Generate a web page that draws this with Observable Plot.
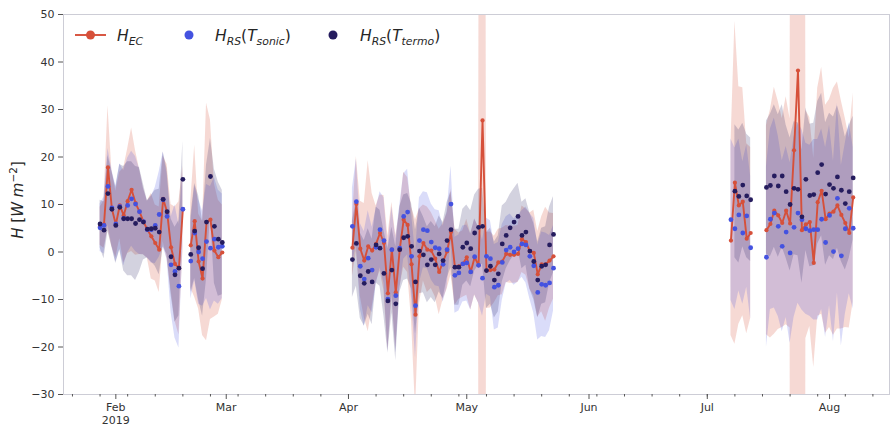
<!DOCTYPE html>
<html>
<head>
<meta charset="utf-8">
<script src="https://cdn.jsdelivr.net/npm/d3@7"></script>
<script src="https://cdn.jsdelivr.net/npm/@observablehq/plot@0.6"></script>
<style>
  body { margin: 0; background: #fff; }
  #chart { position: relative; width: 891px; height: 426px; }
</style>
</head>
<body>
<div id="chart"></div>
<script>
// Daily sensible heat flux H: eddy covariance (EC) and two surface-renewal (RS)
// estimates, with their uncertainty (half-width of the shaded band), three campaigns.

// Campaign A: 2019-01-28 .. 2019-02-28 (no data on 02-19)
const startA = "2019-01-28";
const hecA     = [5.4, 5.8, 17.8, 9.1, 5.8, 9.8, 7.7, 10.7, 13.1, 10.3, 8.5, 6.4, 4.7, 3.3, 1.9, 0.5, 11.2, 8.4, 1.0, -2.5, -3.4, 9.0, null, 1.4, 6.5, -2.0, -5.6, 6.3, 6.8, 0.3, -1.1, -0.1];
const hecErrA  = [4, 5, 13, 8, 7, 7, 10, 11, 13, 11, 9, 7, 6, 9, 8, 9, 9, 10, 9, 12, 14, 9, null, 9, 16, 10, 12, 25, 21, 14, 12, 10];
const sonicA   = [5.1, 5.6, 13.8, 9.3, 5.9, 9.6, 7.1, 9.8, 11.2, 10.1, 8.5, 6.4, 4.7, 4.7, 5.6, 7.9, 11.0, 7.5, -2.7, -4.1, -7.2, 9.0, null, -1.9, 4.0, 0.0, -1.4, 2.2, 0.8, 2.7, 1.0, 1.2];
const sonicErrA = [5, 6, 8, 8, 8, 9, 10, 10, 10, 10, 9, 7, 6, 7, 8, 9, 10, 9, 10, 14, 13, 8, null, 8, 10, 11, 10, 12, 13, 13, 12, 11];
const termoA   = [5.9, 4.6, 12.3, 9.0, 5.6, 9.4, 7.0, 7.0, 7.0, 6.0, 6.8, 6.3, 4.8, 4.9, 5.0, 4.2, 11.1, 8.5, -1.0, -4.8, -3.4, 15.3, null, -0.5, 4.4, 0.9, -3.5, 6.3, 15.9, 5.4, 2.7, 2.0];
const termoErrA = [5, 6, 8, 8, 8, 9, 11, 12, 12, 12, 11, 8, 6, 7, 8, 9, 10, 9, 8, 10, 10, 8, null, 8, 10, 11, 10, 12, 8, 12, 12, 11];

// Campaign B: 2019-04-02 .. 2019-05-23
const startB = "2019-04-02";
const hecB     = [0.9, 10.1, 0.7, -1.8, 1.2, 0.3, 1.7, 4.0, 1.9, -8.7, 0.5, -8.5, 0.5, 6.8, 5.7, -2.6, -13.2, -0.9, 1.9, 0.5, 0.3, -1.4, -4.2, -2.0, 0.1, 4.2, -3.2, -3.0, -2.5,
                  -1.1, -4.2, -1.1, -2.8, 27.7, -3.9, -3.8, -3.7, -2.2, -2.0, -0.4, -0.6, -0.6, -0.4, 2.7, 2.1, 0.2, -0.2, -4.7, -2.6, -2.6, -1.8, -0.9];
const hecErrB  = [6, 10, 10, 12, 18, 12, 8, 8, 10, 12, 10, 12, 8, 10, 10, 12, 20, 10, 8, 9, 8, 8, 9, 8, 8, 9, 8, 7, 7,
                  8, 8, 8, 8, 500, 8, 8, 7, 7, 7, 6, 6, 6, 6, 7, 7, 8, 9, 9, 10, 12, 10, 9];
const sonicB   = [5.4, 10.6, -3.0, -5.7, -1.3, -3.8, 1.0, 4.7, 2.4, -9.9, 0.5, -9.2, 0.8, 7.5, 8.4, -0.9, -11.3, 2.4, 4.7, 4.5, 2.1, 0.9, 0.7, -2.6, 0.5, 10.1, -4.9, -4.4, -2.5,
                  -2.3, -4.2, -1.0, -2.8, -5.5, -0.9, -1.4, -7.4, -7.0, -2.2, 0.4, 1.0, 0.0, 0.7, 1.7, 1.5, -0.9, -2.9, -8.5, -6.8, -7.0, -6.5, -3.4];
const sonicErrB = [8, 9, 9, 10, 10, 9, 8, 8, 9, 11, 9, 12, 9, 9, 9, 9, 11, 9, 8, 8, 8, 8, 8, 8, 8, 8, 8, 8, 8,
                  8, 8, 8, 8, 8, 8, 8, 9, 9, 8, 7, 7, 7, 7, 7, 8, 9, 10, 10, 11, 11, 10, 9];
const termoB   = [-1.6, 1.8, -5.0, -6.6, -4.1, -6.3, 1.5, 0.8, -4.5, -10.3, -3.8, -10.9, 0.5, 3.0, 3.3, 1.2, -6.3, 0.2, -0.6, -2.7, -1.6, -2.7, -0.4, -1.8, 2.4, 4.7, -3.2, -3.2, 1.0,
                  1.9, 0.7, 4.0, 5.2, 5.4, -3.9, -3.0, -5.9, -4.6, 1.7, 3.5, 5.1, 6.3, 7.5, 3.5, 4.2, 0.2, -2.0, -5.9, -3.0, -2.7, 1.5, 3.7];
const termoErrB = [8, 9, 9, 9, 9, 9, 8, 8, 9, 11, 9, 12, 9, 9, 9, 9, 11, 9, 8, 8, 8, 8, 8, 8, 8, 8, 8, 8, 8,
                  8, 8, 8, 8, 8, 8, 8, 8, 8, 8, 7, 7, 7, 7, 7, 7, 8, 8, 8, 8, 8, 8, 8];

// Campaign C: 2019-07-07 .. 2019-08-07 (no data 07-13 .. 07-15)
const startC = "2019-07-07";
const hecC     = [2.4, 14.6, 9.8, 10.6, 2.8, 4.0, null, null, null, 4.6, 5.9, 8.7, 7.7, 6.1, 8.7, 6.0, 21.4, 38.2, 4.6, 5.8, 6.3, -2.3, 10.5, 12.9, 6.9, 8.1, 8.5, 9.8, 7.8, 6.1, 4.0, 11.5];
const hecErrC  = [20, 34, 25, 24, 20, 18, null, null, null, 22, 24, 26, 24, 22, 24, 22, 500, 500, 500, 24, 22, 22, 24, 26, 24, 24, 26, 26, 24, 22, 20, 22];
const sonicC   = [6.8, 4.9, 7.8, 4.0, 7.6, 0.9, null, null, null, -1.1, 6.9, 8.2, 5.4, 1.2, 4.2, -0.2, 5.2, 8.2, 6.8, 4.9, 4.5, 4.7, 4.7, 6.9, 2.0, 7.7, 0.1, 11.3, -0.8, 4.9, 9.2, 5.0];
const sonicErrC = [17, 17, 16, 15, 15, 15, null, null, null, 19, 19, 20, 19, 18, 18, 19, 19, 19, 19, 18, 18, 19, 19, 19, 20, 19, 19, 20, 19, 18, 18, 17];
const termoC   = [null, 12.8, 11.7, 14.1, 11.8, 11.0, null, null, null, 13.6, 14.0, 16.0, 13.9, 16.0, 12.7, 10.0, 13.4, 13.2, 7.4, 15.3, 11.9, 12.1, 16.7, 18.4, 12.2, 14.2, 13.4, 15.8, 13.0, 10.2, 12.7, 15.6];
const termoErrC = [null, 14, 14, 13, 13, 13, null, null, null, 14, 15, 15, 15, 15, 14, 14, 14, 14, 14, 15, 15, 15, 15, 15, 15, 15, 15, 15, 15, 14, 14, 13];

// Axis ticks and labels
const yTicks = [-30, -20, -10, 0, 10, 20, 30, 40, 50];
const monthTicks = ["2019-02-01", "2019-03-01", "2019-04-01", "2019-05-01", "2019-06-01", "2019-07-01", "2019-08-01"];
const monthLabels = ["Feb\n2019", "Mar", "Apr", "May", "Jun", "Jul", "Aug"];
const xRange = ["2019-01-18T17:30Z", "2019-08-16T05:00Z"];

const RED = "#d6503a", BLUE = "#4452e0", NAVY = "#251c5e";

function campaign(seg, start, hec, hecErr, sonic, sonicErr, termo, termoErr) {
  const t0 = new Date(start + "T00:00Z");
  return hec.map((_, i) => ({
    seg, date: d3.utcDay.offset(t0, i),
    hec: hec[i], hecErr: hecErr[i],
    sonic: sonic[i], sonicErr: sonicErr[i],
    termo: termo[i], termoErr: termoErr[i]
  }));
}

const rows = [
  ...campaign("A", startA, hecA, hecErrA, sonicA, sonicErrA, termoA, termoErrA),
  ...campaign("B", startB, hecB, hecErrB, sonicB, sonicErrB, termoB, termoErrB),
  ...campaign("C", startC, hecC, hecErrC, sonicC, sonicErrC, termoC, termoErrC)
];

const lo = (k) => d => d[k] == null ? NaN : d[k] - d[k + "Err"];
const hi = (k) => d => d[k] == null ? NaN : d[k] + d[k + "Err"];
const band = (k, color, opacity) => Plot.areaY(rows, {
  x: "date", y1: lo(k), y2: hi(k), z: "seg", fill: color, fillOpacity: opacity, clip: true
});

const monthDates = monthTicks.map(s => new Date(s + "T00:00Z"));
const xDomain = xRange.map(s => new Date(s));
const weekDates = d3.utcMonday.range(xDomain[0], xDomain[1]);
const minus = v => v < 0 ? "\u2212" + Math.abs(v) : String(v);

const chart = Plot.plot({
  width: 891,
  height: 426,
  marginLeft: 63,
  marginRight: 2,
  marginTop: 14,
  marginBottom: 32,
  style: { fontFamily: "DejaVu Sans", fontSize: "11px", color: "#333", background: "#fff" },
  x: { type: "utc", domain: xDomain, axis: null },
  y: { domain: [-30, 50], axis: null },
  marks: [
    band("hec", RED, 0.22),
    band("sonic", BLUE, 0.2),
    band("termo", NAVY, 0.2),
    Plot.line(rows, { x: "date", y: "hec", z: "seg", stroke: RED, strokeWidth: 1.9 }),
    Plot.dot(rows, { x: "date", y: "hec", r: 2.1, fill: RED }),
    Plot.dot(rows, { x: "date", y: "sonic", r: 2.4, fill: BLUE }),
    Plot.dot(rows, { x: "date", y: "termo", r: 2.4, fill: NAVY }),
    Plot.frame({ stroke: "#cdcdd6" }),
    Plot.axisY(yTicks, { tickSize: 5, tickPadding: 4, tickFormat: minus, stroke: "#555", label: null }),
    Plot.axisX(weekDates, { tickSize: 2.5, tickFormat: () => "", stroke: "#555", label: null }),
    Plot.axisX(monthDates, {
      tickSize: 5, tickPadding: 3, stroke: "#555", label: null, lineHeight: 1.15,
      tickFormat: d => monthLabels[monthDates.findIndex(m => +m === +d)]
    })
  ]
});

document.getElementById("chart").appendChild(chart);

// Math-style labels: italic symbols with sub/superscripts
const svg = d3.select(chart);
function mathText(parent, parts, size, anchor) {
  const t = parent.append("text")
    .attr("font-family", "DejaVu Sans").attr("font-size", size)
    .attr("fill", "#262626").attr("text-anchor", anchor);
  let shift = 0;
  for (const p of parts) {
    const target = p.sub ? 0.27 * size : p.sup ? -0.4 * size : 0;
    const s = t.append("tspan").text(p.t)
      .attr("font-style", p.it ? "italic" : "normal")
      .attr("font-size", (p.sub || p.sup) ? size * 0.7 : size);
    if (target !== shift) { s.attr("dy", target - shift); shift = target; }
  }
  return t;
}

// y axis title
const yTitle = svg.append("g").attr("transform", "translate(23,200) rotate(-90)");
mathText(yTitle, [
  { t: "H", it: true }, { t: " [" }, { t: "W", it: true }, { t: " " }, { t: "m", it: true },
  { t: "\u22122", sup: true }, { t: "]" }
], 15, "middle");

// Legend
const lg = svg.append("g");
lg.append("line").attr("x1", 75).attr("x2", 106).attr("y1", 35).attr("y2", 35).attr("stroke", RED).attr("stroke-width", 1.9);
lg.append("circle").attr("cx", 90.5).attr("cy", 35).attr("r", 4.5).attr("fill", RED);
mathText(lg.append("g").attr("transform", "translate(117,40.5)"),
  [{ t: "H", it: true }, { t: "EC", it: true, sub: true }], 15.5, "start");
lg.append("circle").attr("cx", 189).attr("cy", 35).attr("r", 4.5).attr("fill", BLUE);
mathText(lg.append("g").attr("transform", "translate(215,40.5)"),
  [{ t: "H", it: true }, { t: "RS", it: true, sub: true }, { t: "(" }, { t: "T", it: true }, { t: "sonic", it: true, sub: true }, { t: ")" }], 15.5, "start");
lg.append("circle").attr("cx", 333).attr("cy", 35).attr("r", 4.5).attr("fill", NAVY);
mathText(lg.append("g").attr("transform", "translate(360,40.5)"),
  [{ t: "H", it: true }, { t: "RS", it: true, sub: true }, { t: "(" }, { t: "T", it: true }, { t: "termo", it: true, sub: true }, { t: ")" }], 15.5, "start");
</script>
</body>
</html>
